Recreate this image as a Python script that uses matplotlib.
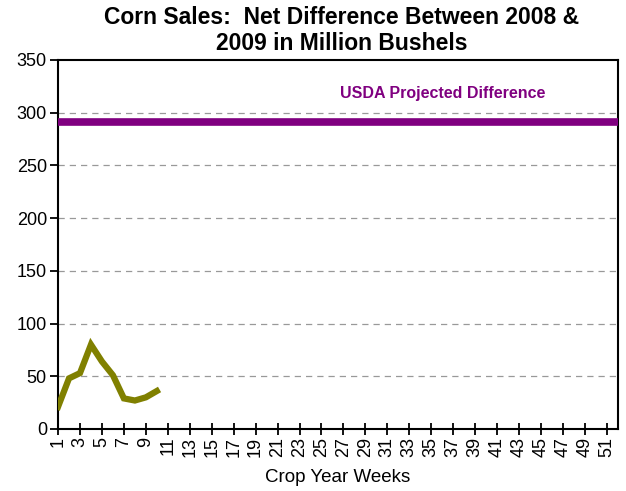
import numpy as np
import matplotlib.pyplot as plt

plt.rcParams['font.family'] = ['Liberation Sans', 'DejaVu Sans']

# Data
weeks = np.arange(1, 53)
week_tick_labels = [str(w) for w in range(1, 52, 2)]
sales_weeks = [1, 2, 3, 4, 5, 6, 7, 8, 9, 10]
net_diff = [21, 48, 53, 80, 64, 51, 29, 27, 30, 36]
usda_projected = 291

fig = plt.figure(figsize=(6.26, 4.91), dpi=100)
ax = fig.add_axes([0.0927, 0.1263, 0.8943, 0.7517])

ax.plot(weeks, [usda_projected] * len(weeks), color='#800080', linewidth=5.5,
        solid_capstyle='butt', zorder=3)
ax.plot(sales_weeks, net_diff, color='#808000', linewidth=4.5,
        solid_joinstyle='miter', zorder=4)

ax.text(0.687, 0.91, 'USDA Projected Difference', transform=ax.transAxes,
        color='#800080', fontsize=11.5, fontweight='bold', ha='center', va='center')

ax.set_xlim(1, 52)
ax.set_ylim(0, 350)
ax.set_yticks(range(0, 351, 50))
ax.set_xticks(range(1, 52, 2))
ax.set_xticklabels(week_tick_labels, rotation=90, fontsize=13)
ax.tick_params(axis='y', labelsize=13, direction='out', length=6, width=1.3, pad=2)
ax.tick_params(axis='x', direction='inout', length=9, width=1.3, pad=1)

for v in range(50, 350, 50):
    ax.axhline(v, color='#999999', linestyle=(0, (5, 4)), linewidth=0.9, zorder=1)

for s in ax.spines.values():
    s.set_linewidth(1.5)

ax.set_xlabel('Crop Year Weeks', fontsize=13.5, labelpad=9)
fig.text(0.546, 0.988, 'Corn Sales:  Net Difference Between 2008 &\n2009 in Million Bushels',
         fontsize=16.5, fontweight='bold', ha='center', va='top', linespacing=1.2)

fig.savefig('out.png', dpi=100)
